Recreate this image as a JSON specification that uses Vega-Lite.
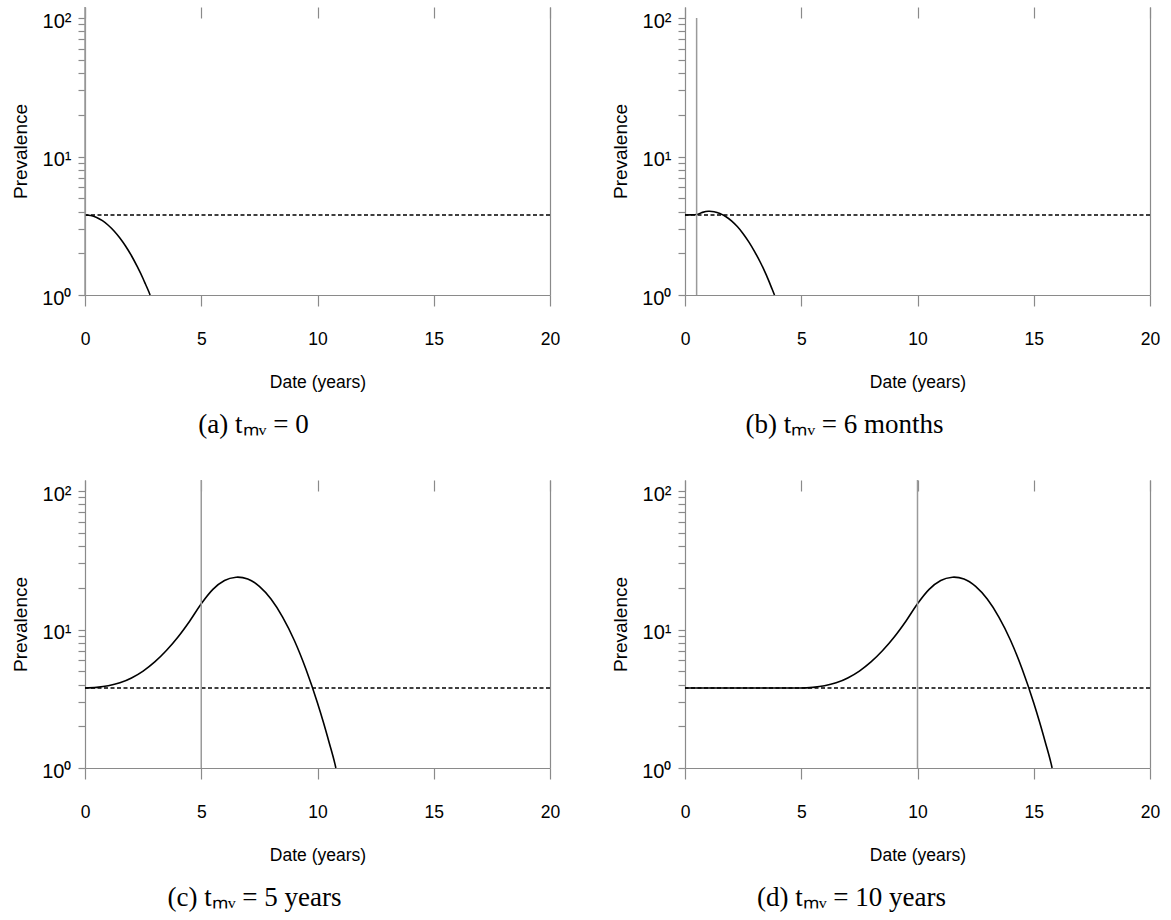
{
  "$schema": "https://vega.github.io/schema/vega-lite/v6.json",
  "background": "white",
  "padding": {"left": 11, "top": 6, "right": 5, "bottom": 5},
  "config": {
    "view": {"stroke": null},
    "axis": {
      "domainColor": "#8a8a8a",
      "tickColor": "#8a8a8a",
      "domainWidth": 1.2,
      "tickWidth": 1.2,
      "labelColor": "#000000",
      "titleColor": "#000000",
      "labelFont": "Liberation Sans",
      "titleFont": "Liberation Sans",
      "titleFontWeight": "normal",
      "grid": false
    }
  },
  "datasets": {
    "curves": [
      {"panel": "a", "t": 0, "prev": 3.78},
      {"panel": "a", "t": 0.25, "prev": 3.745},
      {"panel": "a", "t": 0.5, "prev": 3.63},
      {"panel": "a", "t": 0.75, "prev": 3.44},
      {"panel": "a", "t": 1.0, "prev": 3.19},
      {"panel": "a", "t": 1.25, "prev": 2.9},
      {"panel": "a", "t": 1.5, "prev": 2.58},
      {"panel": "a", "t": 1.75, "prev": 2.25},
      {"panel": "a", "t": 2.0, "prev": 1.92},
      {"panel": "a", "t": 2.25, "prev": 1.6},
      {"panel": "a", "t": 2.5, "prev": 1.31},
      {"panel": "a", "t": 2.6, "prev": 1.2},
      {"panel": "a", "t": 2.75, "prev": 1.05},
      {"panel": "a", "t": 2.8, "prev": 1.0},

      {"panel": "b", "t": 0, "prev": 3.78},
      {"panel": "b", "t": 0.25, "prev": 3.79},
      {"panel": "b", "t": 0.5, "prev": 3.81},
      {"panel": "b", "t": 0.75, "prev": 3.95},
      {"panel": "b", "t": 1.0, "prev": 4.02},
      {"panel": "b", "t": 1.06, "prev": 4.02},
      {"panel": "b", "t": 1.25, "prev": 3.99},
      {"panel": "b", "t": 1.5, "prev": 3.88},
      {"panel": "b", "t": 1.75, "prev": 3.69},
      {"panel": "b", "t": 2.0, "prev": 3.43},
      {"panel": "b", "t": 2.25, "prev": 3.12},
      {"panel": "b", "t": 2.5, "prev": 2.77},
      {"panel": "b", "t": 2.75, "prev": 2.41},
      {"panel": "b", "t": 3.0, "prev": 2.05},
      {"panel": "b", "t": 3.25, "prev": 1.71},
      {"panel": "b", "t": 3.5, "prev": 1.39},
      {"panel": "b", "t": 3.75, "prev": 1.1},
      {"panel": "b", "t": 3.85, "prev": 1.0},

      {"panel": "c", "t": 0, "prev": 3.78},
      {"panel": "c", "t": 0.5, "prev": 3.82},
      {"panel": "c", "t": 1.0, "prev": 3.92},
      {"panel": "c", "t": 1.5, "prev": 4.12},
      {"panel": "c", "t": 2.0, "prev": 4.47},
      {"panel": "c", "t": 2.5, "prev": 5.01},
      {"panel": "c", "t": 3.0, "prev": 5.83},
      {"panel": "c", "t": 3.5, "prev": 7.05},
      {"panel": "c", "t": 4.0, "prev": 8.83},
      {"panel": "c", "t": 4.5, "prev": 11.48},
      {"panel": "c", "t": 5.0, "prev": 15.35},
      {"panel": "c", "t": 5.5, "prev": 19.5},
      {"panel": "c", "t": 6.0, "prev": 22.6},
      {"panel": "c", "t": 6.5, "prev": 23.85},
      {"panel": "c", "t": 6.57, "prev": 23.9},
      {"panel": "c", "t": 7.0, "prev": 23.2},
      {"panel": "c", "t": 7.5, "prev": 20.5},
      {"panel": "c", "t": 8.0, "prev": 16.6},
      {"panel": "c", "t": 8.5, "prev": 12.3},
      {"panel": "c", "t": 9.0, "prev": 8.37},
      {"panel": "c", "t": 9.5, "prev": 5.19},
      {"panel": "c", "t": 10.0, "prev": 2.95},
      {"panel": "c", "t": 10.25, "prev": 2.15},
      {"panel": "c", "t": 10.5, "prev": 1.53},
      {"panel": "c", "t": 10.75, "prev": 1.07},
      {"panel": "c", "t": 10.79, "prev": 1.0},

      {"panel": "d", "t": 0, "prev": 3.78},
      {"panel": "d", "t": 2.5, "prev": 3.78},
      {"panel": "d", "t": 5.0, "prev": 3.78},
      {"panel": "d", "t": 5.5, "prev": 3.82},
      {"panel": "d", "t": 6.0, "prev": 3.92},
      {"panel": "d", "t": 6.5, "prev": 4.12},
      {"panel": "d", "t": 7.0, "prev": 4.47},
      {"panel": "d", "t": 7.5, "prev": 5.01},
      {"panel": "d", "t": 8.0, "prev": 5.83},
      {"panel": "d", "t": 8.5, "prev": 7.05},
      {"panel": "d", "t": 9.0, "prev": 8.83},
      {"panel": "d", "t": 9.5, "prev": 11.48},
      {"panel": "d", "t": 10.0, "prev": 15.35},
      {"panel": "d", "t": 10.5, "prev": 19.5},
      {"panel": "d", "t": 11.0, "prev": 22.6},
      {"panel": "d", "t": 11.5, "prev": 23.85},
      {"panel": "d", "t": 11.57, "prev": 23.9},
      {"panel": "d", "t": 12.0, "prev": 23.2},
      {"panel": "d", "t": 12.5, "prev": 20.5},
      {"panel": "d", "t": 13.0, "prev": 16.6},
      {"panel": "d", "t": 13.5, "prev": 12.3},
      {"panel": "d", "t": 14.0, "prev": 8.37},
      {"panel": "d", "t": 14.5, "prev": 5.19},
      {"panel": "d", "t": 15.0, "prev": 2.95},
      {"panel": "d", "t": 15.25, "prev": 2.15},
      {"panel": "d", "t": 15.5, "prev": 1.53},
      {"panel": "d", "t": 15.75, "prev": 1.07},
      {"panel": "d", "t": 15.79, "prev": 1.0}
    ],
    "refs": [
      {"panel": "a", "level": 3.78, "tmv": 0, "lo": 1, "hi": 120.1},
      {"panel": "b", "level": 3.78, "tmv": 0.5, "lo": 1, "hi": 100},
      {"panel": "c", "level": 3.78, "tmv": 5, "lo": 1, "hi": 120.1},
      {"panel": "d", "level": 3.78, "tmv": 10, "lo": 1, "hi": 120.1}
    ]
  },
  "columns": 2,
  "bounds": "flush",
  "spacing": {"row": 185, "column": 135},
  "concat": [
    {
      "width": 465, "height": 288,
      "title": {"text": "(a) tₘᵥ = 0", "orient": "bottom", "anchor": "middle", "frame": "group", "dx": -64, "offset": 21, "font": "Liberation Serif", "fontSize": 27, "fontWeight": "normal", "color": "#000000"},
      "resolve": {"axis": {"x": "independent", "y": "independent"}},
      "layer": [
        {
          "data": {"name": "curves"},
          "transform": [{"filter": "datum.panel == 'a'"}],
          "mark": {"type": "line", "color": "#000000", "strokeWidth": 1.6, "interpolate": "monotone"},
          "encoding": {
            "x": {"field": "t", "type": "quantitative", "scale": {"domain": [0, 20], "nice": false, "zero": false},
                  "axis": {"orient": "bottom", "values": [0, 5, 10, 15, 20], "format": "d", "tickSize": 11, "labelPadding": 24, "labelFontSize": 17.5, "labelFlush": false, "labelOverlap": false, "title": "Date (years)", "titleFontSize": 17.5, "titlePadding": 26}},
            "y": {"field": "prev", "type": "quantitative", "scale": {"type": "log", "domain": [1, 120.1], "nice": false},
                  "axis": {"orient": "left", "values": [1, 2, 3, 4, 5, 6, 7, 8, 9, 10, 20, 30, 40, 50, 60, 70, 80, 90, 100], "tickSize": 7, "labelPadding": 7, "labelOffset": 3, "labelFontSize": 20, "labelFlush": false, "labelOverlap": false,
                           "labelExpr": "datum.value == 1 ? '10⁰' : datum.value == 10 ? '10¹' : datum.value == 100 ? '10²' : ''",
                           "title": "Prevalence", "titleFontSize": 19, "titlePadding": 11}}
          }
        },
        {
          "data": {"name": "refs"},
          "transform": [{"filter": "datum.panel == 'a'"}],
          "mark": {"type": "rule", "color": "#000000", "strokeDash": [4, 2.5], "strokeWidth": 1.3},
          "encoding": {
            "y": {"field": "level", "type": "quantitative", "scale": {"type": "log", "domain": [1, 120.1], "nice": false},
                  "axis": {"orient": "right", "ticks": false, "labels": false, "domain": true, "title": null}}
          }
        },
        {
          "data": {"name": "refs"},
          "transform": [{"filter": "datum.panel == 'a'"}],
          "mark": {"type": "rule", "color": "#9a9a9a", "strokeWidth": 1.5},
          "encoding": {
            "x": {"field": "tmv", "type": "quantitative", "scale": {"domain": [0, 20], "nice": false, "zero": false},
                  "axis": {"orient": "top", "values": [0, 5, 10, 15, 20], "tickSize": 11, "offset": -11, "labels": false, "domain": false, "title": null}},
            "y": {"field": "lo", "type": "quantitative", "scale": {"type": "log", "domain": [1, 120.1], "nice": false}, "axis": null},
            "y2": {"field": "hi"}
          }
        }
      ]
    },
    {
      "width": 465, "height": 288,
      "title": {"text": "(b) tₘᵥ = 6 months", "orient": "bottom", "anchor": "middle", "frame": "group", "dx": -73, "offset": 21, "font": "Liberation Serif", "fontSize": 27, "fontWeight": "normal", "color": "#000000"},
      "resolve": {"axis": {"x": "independent", "y": "independent"}},
      "layer": [
        {
          "data": {"name": "curves"},
          "transform": [{"filter": "datum.panel == 'b'"}],
          "mark": {"type": "line", "color": "#000000", "strokeWidth": 1.6, "interpolate": "monotone"},
          "encoding": {
            "x": {"field": "t", "type": "quantitative", "scale": {"domain": [0, 20], "nice": false, "zero": false},
                  "axis": {"orient": "bottom", "values": [0, 5, 10, 15, 20], "format": "d", "tickSize": 11, "labelPadding": 24, "labelFontSize": 17.5, "labelFlush": false, "labelOverlap": false, "title": "Date (years)", "titleFontSize": 17.5, "titlePadding": 26}},
            "y": {"field": "prev", "type": "quantitative", "scale": {"type": "log", "domain": [1, 120.1], "nice": false},
                  "axis": {"orient": "left", "values": [1, 2, 3, 4, 5, 6, 7, 8, 9, 10, 20, 30, 40, 50, 60, 70, 80, 90, 100], "tickSize": 7, "labelPadding": 7, "labelOffset": 3, "labelFontSize": 20, "labelFlush": false, "labelOverlap": false,
                           "labelExpr": "datum.value == 1 ? '10⁰' : datum.value == 10 ? '10¹' : datum.value == 100 ? '10²' : ''",
                           "title": "Prevalence", "titleFontSize": 19, "titlePadding": 11}}
          }
        },
        {
          "data": {"name": "refs"},
          "transform": [{"filter": "datum.panel == 'b'"}],
          "mark": {"type": "rule", "color": "#000000", "strokeDash": [4, 2.5], "strokeWidth": 1.3},
          "encoding": {
            "y": {"field": "level", "type": "quantitative", "scale": {"type": "log", "domain": [1, 120.1], "nice": false},
                  "axis": {"orient": "right", "ticks": false, "labels": false, "domain": true, "title": null}}
          }
        },
        {
          "data": {"name": "refs"},
          "transform": [{"filter": "datum.panel == 'b'"}],
          "mark": {"type": "rule", "color": "#9a9a9a", "strokeWidth": 1.5},
          "encoding": {
            "x": {"field": "tmv", "type": "quantitative", "scale": {"domain": [0, 20], "nice": false, "zero": false},
                  "axis": {"orient": "top", "values": [0, 5, 10, 15, 20], "tickSize": 11, "offset": -11, "labels": false, "domain": false, "title": null}},
            "y": {"field": "lo", "type": "quantitative", "scale": {"type": "log", "domain": [1, 120.1], "nice": false}, "axis": null},
            "y2": {"field": "hi"}
          }
        }
      ]
    },
    {
      "width": 465, "height": 288,
      "title": {"text": "(c) tₘᵥ = 5 years", "orient": "bottom", "anchor": "middle", "frame": "group", "dx": -63, "offset": 21, "font": "Liberation Serif", "fontSize": 27, "fontWeight": "normal", "color": "#000000"},
      "resolve": {"axis": {"x": "independent", "y": "independent"}},
      "layer": [
        {
          "data": {"name": "curves"},
          "transform": [{"filter": "datum.panel == 'c'"}],
          "mark": {"type": "line", "color": "#000000", "strokeWidth": 1.6, "interpolate": "monotone"},
          "encoding": {
            "x": {"field": "t", "type": "quantitative", "scale": {"domain": [0, 20], "nice": false, "zero": false},
                  "axis": {"orient": "bottom", "values": [0, 5, 10, 15, 20], "format": "d", "tickSize": 11, "labelPadding": 24, "labelFontSize": 17.5, "labelFlush": false, "labelOverlap": false, "title": "Date (years)", "titleFontSize": 17.5, "titlePadding": 26}},
            "y": {"field": "prev", "type": "quantitative", "scale": {"type": "log", "domain": [1, 120.1], "nice": false},
                  "axis": {"orient": "left", "values": [1, 2, 3, 4, 5, 6, 7, 8, 9, 10, 20, 30, 40, 50, 60, 70, 80, 90, 100], "tickSize": 7, "labelPadding": 7, "labelOffset": 3, "labelFontSize": 20, "labelFlush": false, "labelOverlap": false,
                           "labelExpr": "datum.value == 1 ? '10⁰' : datum.value == 10 ? '10¹' : datum.value == 100 ? '10²' : ''",
                           "title": "Prevalence", "titleFontSize": 19, "titlePadding": 11}}
          }
        },
        {
          "data": {"name": "refs"},
          "transform": [{"filter": "datum.panel == 'c'"}],
          "mark": {"type": "rule", "color": "#000000", "strokeDash": [4, 2.5], "strokeWidth": 1.3},
          "encoding": {
            "y": {"field": "level", "type": "quantitative", "scale": {"type": "log", "domain": [1, 120.1], "nice": false},
                  "axis": {"orient": "right", "ticks": false, "labels": false, "domain": true, "title": null}}
          }
        },
        {
          "data": {"name": "refs"},
          "transform": [{"filter": "datum.panel == 'c'"}],
          "mark": {"type": "rule", "color": "#9a9a9a", "strokeWidth": 1.5},
          "encoding": {
            "x": {"field": "tmv", "type": "quantitative", "scale": {"domain": [0, 20], "nice": false, "zero": false},
                  "axis": {"orient": "top", "values": [0, 5, 10, 15, 20], "tickSize": 11, "offset": -11, "labels": false, "domain": false, "title": null}},
            "y": {"field": "lo", "type": "quantitative", "scale": {"type": "log", "domain": [1, 120.1], "nice": false}, "axis": null},
            "y2": {"field": "hi"}
          }
        }
      ]
    },
    {
      "width": 465, "height": 288,
      "title": {"text": "(d) tₘᵥ = 10 years", "orient": "bottom", "anchor": "middle", "frame": "group", "dx": -66, "offset": 21, "font": "Liberation Serif", "fontSize": 27, "fontWeight": "normal", "color": "#000000"},
      "resolve": {"axis": {"x": "independent", "y": "independent"}},
      "layer": [
        {
          "data": {"name": "curves"},
          "transform": [{"filter": "datum.panel == 'd'"}],
          "mark": {"type": "line", "color": "#000000", "strokeWidth": 1.6, "interpolate": "monotone"},
          "encoding": {
            "x": {"field": "t", "type": "quantitative", "scale": {"domain": [0, 20], "nice": false, "zero": false},
                  "axis": {"orient": "bottom", "values": [0, 5, 10, 15, 20], "format": "d", "tickSize": 11, "labelPadding": 24, "labelFontSize": 17.5, "labelFlush": false, "labelOverlap": false, "title": "Date (years)", "titleFontSize": 17.5, "titlePadding": 26}},
            "y": {"field": "prev", "type": "quantitative", "scale": {"type": "log", "domain": [1, 120.1], "nice": false},
                  "axis": {"orient": "left", "values": [1, 2, 3, 4, 5, 6, 7, 8, 9, 10, 20, 30, 40, 50, 60, 70, 80, 90, 100], "tickSize": 7, "labelPadding": 7, "labelOffset": 3, "labelFontSize": 20, "labelFlush": false, "labelOverlap": false,
                           "labelExpr": "datum.value == 1 ? '10⁰' : datum.value == 10 ? '10¹' : datum.value == 100 ? '10²' : ''",
                           "title": "Prevalence", "titleFontSize": 19, "titlePadding": 11}}
          }
        },
        {
          "data": {"name": "refs"},
          "transform": [{"filter": "datum.panel == 'd'"}],
          "mark": {"type": "rule", "color": "#000000", "strokeDash": [4, 2.5], "strokeWidth": 1.3},
          "encoding": {
            "y": {"field": "level", "type": "quantitative", "scale": {"type": "log", "domain": [1, 120.1], "nice": false},
                  "axis": {"orient": "right", "ticks": false, "labels": false, "domain": true, "title": null}}
          }
        },
        {
          "data": {"name": "refs"},
          "transform": [{"filter": "datum.panel == 'd'"}],
          "mark": {"type": "rule", "color": "#9a9a9a", "strokeWidth": 1.5},
          "encoding": {
            "x": {"field": "tmv", "type": "quantitative", "scale": {"domain": [0, 20], "nice": false, "zero": false},
                  "axis": {"orient": "top", "values": [0, 5, 10, 15, 20], "tickSize": 11, "offset": -11, "labels": false, "domain": false, "title": null}},
            "y": {"field": "lo", "type": "quantitative", "scale": {"type": "log", "domain": [1, 120.1], "nice": false}, "axis": null},
            "y2": {"field": "hi"}
          }
        }
      ]
    }
  ]
}
